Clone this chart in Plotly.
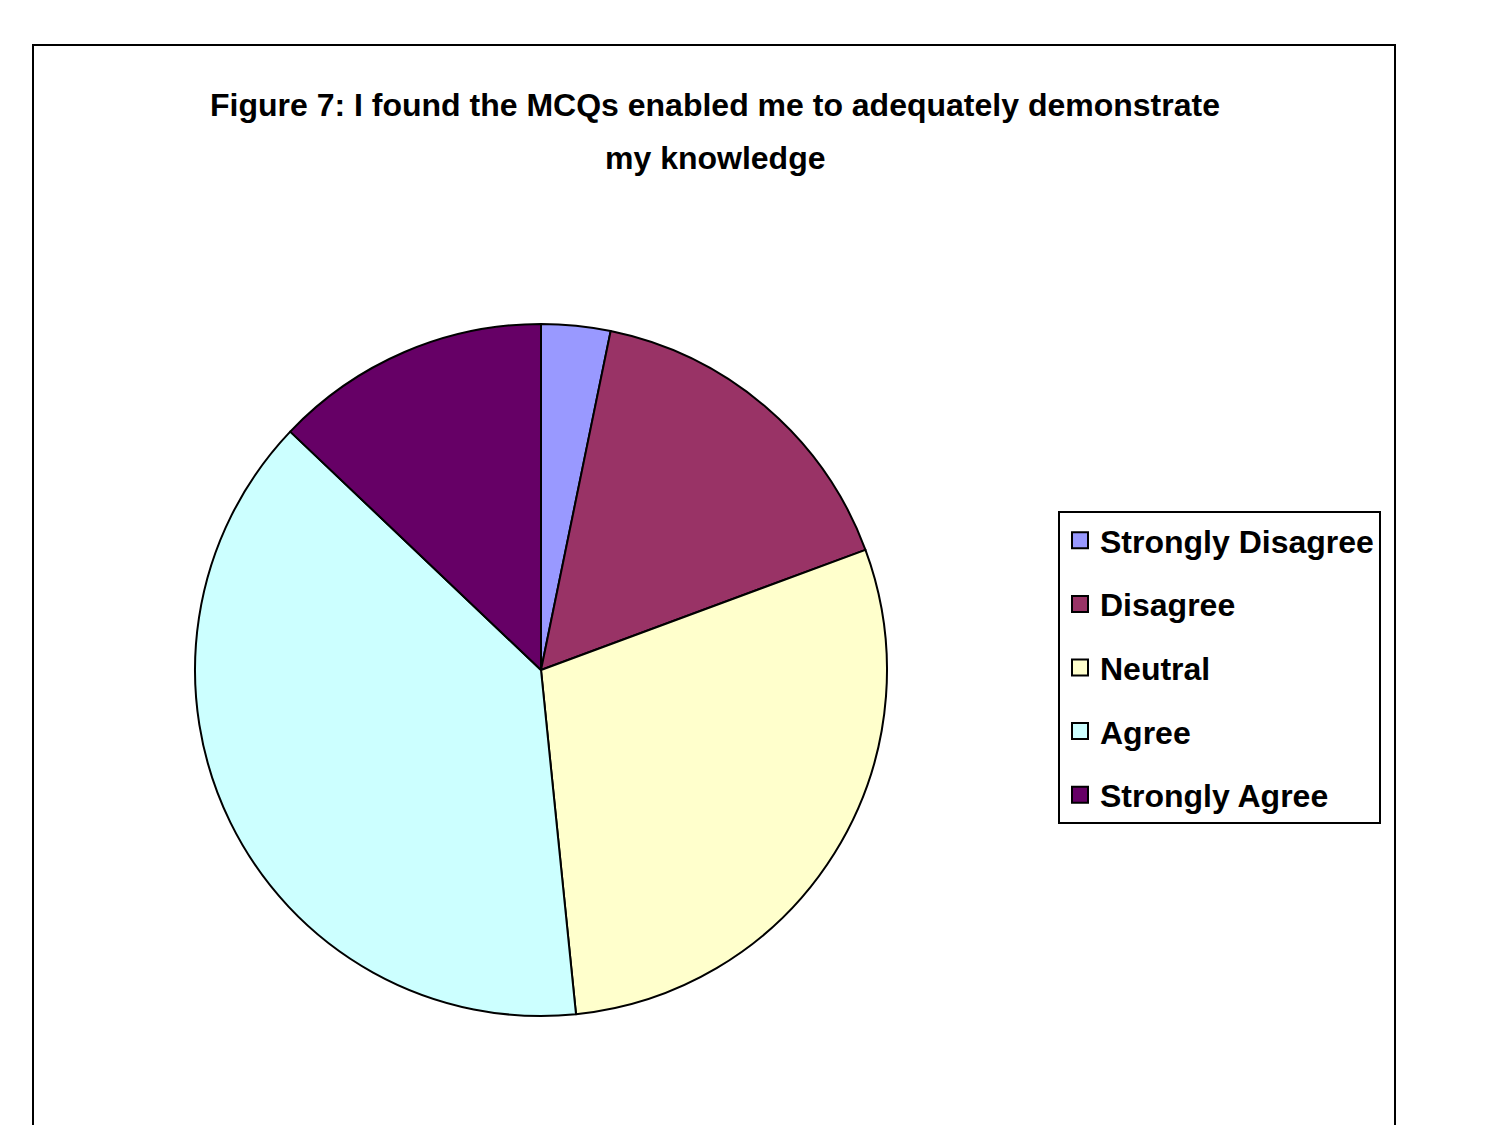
import plotly.graph_objects as go

categories = ["Strongly Disagree", "Disagree", "Neutral", "Agree", "Strongly Agree"]
counts = [1, 5, 9, 12, 4]
colors = ["#9999FF", "#993366", "#FFFFCC", "#CCFFFF", "#660066"]

W, H = 1500, 1125
OFF = 8  # browser body margin
FONT = "Liberation Sans, Arial, sans-serif"


def px(x):
    return (x - OFF) / W


def py(y):
    return 1 - (y - OFF) / H


fig = go.Figure()
fig.add_trace(go.Pie(
    labels=categories,
    values=counts,
    sort=False,
    direction="clockwise",
    rotation=0,
    marker=dict(colors=colors, line=dict(color="black", width=2)),
    textinfo="none",
    hoverinfo="label+value+percent",
    domain=dict(x=[px(195), px(887)], y=[py(1016), py(324)]),
    showlegend=False,
))

for cat, col in zip(categories, colors):
    fig.add_trace(go.Scatter(
        x=[None], y=[None], mode="markers", name=cat, legendgroup=cat,
        marker=dict(symbol="square", size=16, color=col, line=dict(color="black", width=2)),
        hoverinfo="skip",
    ))

fig.update_layout(
    width=W, height=H,
    margin=dict(l=0, r=0, t=0, b=0),
    paper_bgcolor="white",
    plot_bgcolor="white",
    font=dict(family=FONT, color="black"),
    xaxis=dict(visible=False),
    yaxis=dict(visible=False),
    legend=dict(
        x=px(1058), y=py(511), xanchor="left", yanchor="top",
        bordercolor="black", borderwidth=2,
        font=dict(size=32, family=FONT, color="black", weight="bold"),
        bgcolor="white",
        tracegroupgap=19,
        itemclick=False, itemdoubleclick=False,
    ),
    shapes=[dict(type="rect", xref="paper", yref="paper",
                 x0=px(33), x1=px(1395), y0=-0.05, y1=py(45),
                 line=dict(color="black", width=2), fillcolor="rgba(0,0,0,0)", layer="below")],
    annotations=[
        dict(text="<b>Figure 7: I found the MCQs enabled me to adequately demonstrate</b>",
             x=px(715), y=py(105), xref="paper", yref="paper", showarrow=False,
             xanchor="center", yanchor="middle", font=dict(size=32, family=FONT)),
        dict(text="<b>my knowledge</b>",
             x=px(715), y=py(158), xref="paper", yref="paper", showarrow=False,
             xanchor="center", yanchor="middle", font=dict(size=32, family=FONT)),
    ],
)

fig.write_html("out.html")
